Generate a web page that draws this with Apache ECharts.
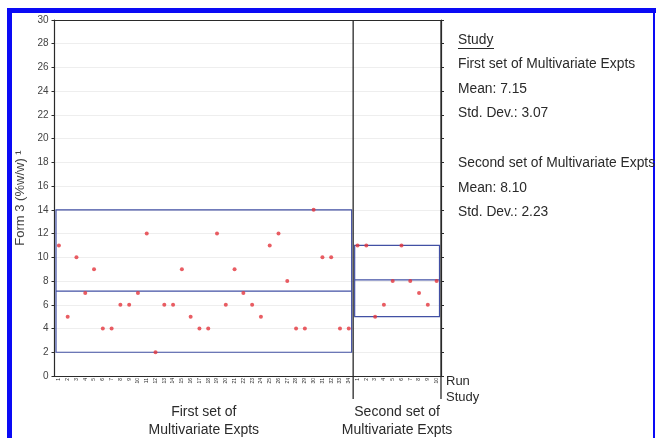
<!DOCTYPE html>
<html>
<head>
<meta charset="utf-8">
<script src="https://cdn.jsdelivr.net/npm/echarts@6/dist/echarts.min.js"></script>
<style>
html, body { margin: 0; padding: 0; background: #fff; }
#main { width: 656px; height: 438px; }
</style>
</head>
<body>
<div id="main"></div>
<script>
// run labels (tick labels of the Run row)
var firstRuns = ['1','2','3','4','5','6','7','8','9','10','11','12','13','14','15','16','17',
    '18','19','20','21','22','23','24','25','26','27','28','29','30','31','32','33','34'];
var secondRuns = ['1','2','3','4','5','6','7','8','9','10'];
// Form 3 content per run
var firstValues = [11, 5, 10, 7, 9, 4, 4, 6, 6, 7, 12, 2, 6, 6, 9, 5, 4, 4, 12, 6,
    9, 7, 6, 5, 11, 12, 8, 4, 4, 14, 10, 10, 4, 4];
var secondValues = [11, 11, 5, 6, 8, 11, 8, 7, 6, 8];
var studyNames = ['First set of Multivariate Expts', 'Second set of Multivariate Expts'];
var studyLabels = ['First set of\nMultivariate Expts', 'Second set of\nMultivariate Expts'];

var mean = function(a) {
    var s = 0;
    for (var i = 0; i < a.length; i++) s += a[i];
    return s / a.length;
};
var stdDev = function(a) {
    var m = mean(a), s = 0;
    for (var i = 0; i < a.length; i++) s += (a[i] - m) * (a[i] - m);
    return Math.sqrt(s / (a.length - 1));
};

var runs = firstRuns.concat(secondRuns);
var values = firstValues.concat(secondValues);
var groups = [
    [0, firstValues.length - 1, Math.min.apply(null, firstValues), Math.max.apply(null, firstValues), mean(firstValues)],
    [firstValues.length, values.length - 1, Math.min.apply(null, secondValues), Math.max.apply(null, secondValues), mean(secondValues)]
];

var boxColor = '#4250a4';
var inkColor = '#2a2a2a';
var font = 'Liberation Sans';

var renderGroup = function(params, api) {
    var s = api.value(0), e = api.value(1);
    var bw = api.size([1, 0])[0];
    var x0 = api.coord([s, 0])[0] - bw / 2;
    var x1 = api.coord([e, 0])[0] + bw / 2;
    var yHi = api.coord([s, api.value(3)])[1];
    var yLo = api.coord([s, api.value(2)])[1];
    var yM = api.coord([s, api.value(4)])[1];
    var y0 = api.coord([s, 0])[1];
    var yTop = api.coord([s, 30])[1];
    var pad = 1.5;
    return {
        type: 'group',
        children: [{
            type: 'rect',
            shape: { x: x0 + pad, y: yHi, width: x1 - x0 - 2 * pad, height: yLo - yHi },
            style: { fill: 'none', stroke: boxColor, lineWidth: 1.2 }
        }, {
            type: 'line',
            shape: { x1: x0 + pad, y1: yM, x2: x1 - pad, y2: yM },
            style: { stroke: boxColor, lineWidth: 1.2 }
        }, {
            type: 'line',
            shape: { x1: x1, y1: yTop, x2: x1, y2: y0 + 23 },
            style: { stroke: inkColor, lineWidth: 1.3 }
        }, {
            type: 'text',
            x: (x0 + x1) / 2,
            y: y0 + 27,
            style: {
                text: studyLabels[params.dataIndex],
                align: 'center', verticalAlign: 'top',
                fontSize: 14, lineHeight: 18, fill: inkColor,
                fontFamily: font
            }
        }]
    };
};

var legendText = function(text, top) {
    return {
        type: 'text', left: 458, top: top,
        style: { text: text, fontSize: 13.8, fill: inkColor, fontFamily: font }
    };
};

var myChart = echarts.init(document.getElementById('main'));
var option = {
    animation: false,
    textStyle: { fontFamily: font },
    grid: { left: 54.5, right: 215, top: 20, bottom: 62 },
    xAxis: [{
        type: 'category',
        data: runs,
        position: 'bottom',
        axisLine: { lineStyle: { color: inkColor, width: 1.2 } },
        axisTick: { interval: 0, length: 23, lineStyle: { color: inkColor } },
        axisLabel: { interval: 0, rotate: 90, fontSize: 5, margin: 2, color: inkColor },
        name: 'Run',
        nameLocation: 'end',
        nameGap: 5,
        nameTextStyle: { fontSize: 13, color: inkColor, verticalAlign: 'top', padding: [-1, 0, 0, 0] }
    }, {
        type: 'category',
        data: runs,
        position: 'bottom',
        offset: 8,
        axisLine: { lineStyle: { color: inkColor, width: 1.2 } },
        axisTick: { show: false },
        axisLabel: { show: false },
        name: 'Study',
        nameLocation: 'end',
        nameGap: 5,
        nameTextStyle: { fontSize: 13, color: inkColor, verticalAlign: 'top', padding: [15, 0, 0, 0] }
    }, {
        type: 'category',
        data: runs,
        position: 'top',
        axisLine: { lineStyle: { color: inkColor, width: 1.2 } },
        axisTick: {
            inside: true, length: 3, lineStyle: { color: inkColor },
            interval: function(index) { return index % 2 === 1; }
        },
        axisLabel: { show: false }
    }],
    yAxis: [{
        type: 'value',
        min: 0, max: 30, interval: 2,
        position: 'left',
        axisLine: { show: true, lineStyle: { color: inkColor, width: 1.2 } },
        axisTick: { show: true, length: 3, lineStyle: { color: inkColor } },
        axisLabel: { fontSize: 10, color: '#444', margin: 6 },
        splitLine: { lineStyle: { color: '#eeeeee' } },
        name: 'Form 3 (%w/w) \u00b9',
        nameLocation: 'middle',
        nameGap: 26,
        nameTextStyle: { fontSize: 13, color: '#444' }
    }, {
        type: 'value',
        min: 0, max: 30, interval: 2,
        position: 'right',
        axisLine: { show: true, lineStyle: { color: inkColor, width: 1.2 } },
        axisTick: { show: true, length: 3, lineStyle: { color: inkColor } },
        axisLabel: { show: false },
        splitLine: { show: false }
    }],
    series: [{
        type: 'custom',
        xAxisIndex: 0,
        yAxisIndex: 0,
        clip: false,
        renderItem: renderGroup,
        encode: { x: [0, 1], y: [2, 3, 4] },
        data: groups,
        z: 2
    }, {
        type: 'scatter',
        xAxisIndex: 0,
        yAxisIndex: 0,
        symbol: 'circle',
        symbolSize: 4,
        itemStyle: { color: '#e3343c' },
        data: values,
        z: 3
    }],
    graphic: [
        { type: 'rect', left: 7, top: 8, shape: { width: 5, height: 430 }, style: { fill: '#0a0af5' } },
        { type: 'rect', left: 7, top: 8, shape: { width: 649, height: 5 }, style: { fill: '#0a0af5' } },
        { type: 'rect', left: 653, top: 8, shape: { width: 2, height: 430 }, style: { fill: '#0a0af5' } },
        legendText('Study', 33),
        { type: 'rect', left: 458, top: 48, shape: { width: 36, height: 1 }, style: { fill: inkColor } },
        legendText(studyNames[0], 57),
        legendText('Mean: ' + mean(firstValues).toFixed(2), 82),
        legendText('Std. Dev.: ' + stdDev(firstValues).toFixed(2), 106),
        legendText(studyNames[1], 156),
        legendText('Mean: ' + mean(secondValues).toFixed(2), 181),
        legendText('Std. Dev.: ' + stdDev(secondValues).toFixed(2), 205)
    ]
};
myChart.setOption(option);
</script>
</body>
</html>
